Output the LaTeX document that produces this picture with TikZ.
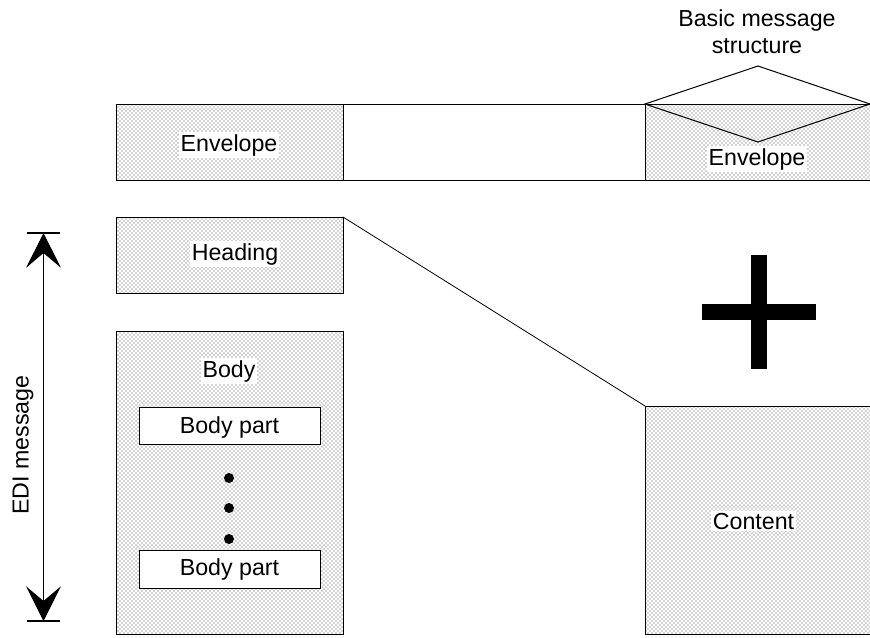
\documentclass[tikz,border=0pt]{standalone}
\usepackage{fontspec}
\setmainfont{Liberation Sans}
\usetikzlibrary{patterns,arrows.meta}
\tikzset{
	areabox/.style={draw,line width=0.75pt,anchor=north west,inner sep=0pt,outer sep=0pt,pattern=crosshatch dots,pattern color=black!75},
	plainbox/.style={draw,line width=0.75pt,fill=white,anchor=north west,inner sep=0pt,outer sep=0pt,align=center},
	labeltext/.style={font=\fontsize{17.4}{20.5}\selectfont},
	tag/.style={labeltext,fill=white,inner sep=1.5pt},
	bullet/.style={circle,fill=black,inner sep=0pt,minimum size=7.5pt},
}
\begin{document}
\begin{tikzpicture}[x=0.75pt,y=-0.75pt,>={Stealth[length=26pt,width=26pt,inset=11pt]}]
	\useasboundingbox (0,0) rectangle (870,637);
	
	% Envelope strip along the top
	\node[areabox,minimum width=170.25pt,minimum height=57pt] (envleft) at (116,104) {};
	\node[plainbox,minimum width=226.5pt,minimum height=57pt] (envmid) at (343,104) {};
	\node[areabox,minimum width=168.75pt,minimum height=57pt] (envright) at (645,104) {};
	\node[tag] (envlefttag) at (229,145) {Envelope};
	\node[tag] (envrighttag) at (757,159) {Envelope};
	
	% Flap of the envelope
	\coordinate (flaptop) at (758,66);
	\coordinate (flapbottom) at (758,142);
	\draw[line width=0.75pt] (envright.north west) -- (flaptop) -- (envright.north east) -- (flapbottom) -- cycle;
	\node[labeltext,align=center,inner sep=0pt] (title) at (757,32) {Basic message\\structure};
	
	% Heading and body
	\node[areabox,minimum width=170.25pt,minimum height=57pt] (heading) at (116,217) {};
	\node[tag] (headingtag) at (235,254) {Heading};
	\node[areabox,minimum width=170.25pt,minimum height=227.25pt] (body) at (116,331) {};
	\node[tag] (bodytag) at (229,371) {Body};
	\node[plainbox,labeltext,text depth=0pt,minimum width=135.75pt,minimum height=27.75pt,anchor=center] (partone) at (229.5,425.5) {Body part};
	\node[plainbox,labeltext,minimum width=135.75pt,minimum height=28.5pt,anchor=center] (parttwo) at (229.5,569) {\raisebox{1pt}{Body part}};
	\foreach \dotname/\doty in {dotone/478,dottwo/508,dotthree/539}
		\node[bullet] (\dotname) at (229,\doty) {};
	
	% Content
	\node[areabox,minimum width=168.75pt,minimum height=171pt] (content) at (645,406) {};
	\node[tag] (contenttag) at (753.5,521) {Content};
	\draw[line width=0.6pt] (heading.north east) -- (content.north west);
	
	% Plus sign
	\fill (751,255) rectangle (767,369);
	\fill (702,304) rectangle (816,320);
	
	% EDI message extent
	\coordinate (extentbartopl) at (27,233);
	\coordinate (extentbartopr) at (60,233);
	\coordinate (extentbarbotl) at (27,621);
	\coordinate (extentbarbotr) at (60,621);
	\coordinate (extenttop) at (43.5,233);
	\coordinate (extentbot) at (43.5,621);
	\draw[line width=1.2pt] (extentbartopl) -- (extentbartopr);
	\draw[line width=1.2pt] (extentbarbotl) -- (extentbarbotr);
	\draw[<->,line width=0.7pt] (extenttop) -- (extentbot);
	\node[labeltext,rotate=90,inner sep=0pt] (edilabel) at (23,445) {EDI message};
	
\end{tikzpicture}
\end{document}
